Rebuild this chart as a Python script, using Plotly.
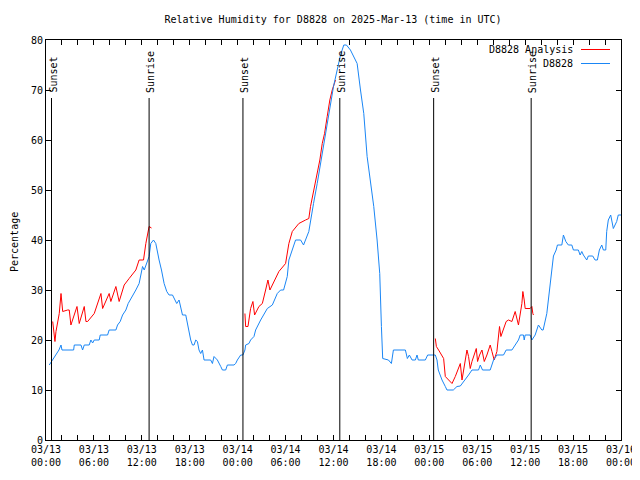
import plotly.graph_objects as go
import pandas as pd

# ---- data (hours since 2025-03-13 00:00 UTC) ----
obs_hours = [0.41, 0.62, 0.88, 1.25, 1.62, 1.88, 2.0, 3.46, 3.54, 4.38, 4.58, 4.79, 5.41, 5.62, 5.84,
             6.04, 6.66, 6.79, 7.71, 7.91, 8.75, 8.96, 9.29, 9.59, 10.0, 10.29, 10.84, 11.25, 11.66,
             11.87, 12.09, 12.3, 12.5, 12.91, 13.12, 13.46, 13.75, 13.96, 14.16, 14.46, 14.79, 15.12,
             15.41, 15.84, 16.04, 16.37, 16.66, 16.88, 17.09, 17.5, 17.71, 17.91, 18.12, 18.34, 18.54,
             18.75, 18.96, 19.16, 19.37, 19.59, 19.79, 20.62, 20.84, 21.04, 21.25, 21.46, 21.88, 22.09,
             22.5, 22.71, 23.54, 23.75, 23.96, 24.38, 24.66, 24.91, 25.0, 25.41, 25.62, 26.04, 26.25,
             26.88, 27.71, 28.34, 28.96, 29.38, 29.75, 30.21, 30.41, 30.84, 31.25, 31.88, 32.25, 32.91,
             33.12, 33.5, 33.96, 34.38, 34.79, 35.21, 35.62, 36.0, 36.46, 36.88, 37.29, 37.62, 38.12,
             38.5, 38.96, 39.38, 39.79, 40.21, 40.62, 41.04, 41.46, 41.79, 42.0, 42.16, 42.88, 43.25,
             43.5, 45.0, 45.25, 45.5, 45.84, 46.25, 46.46, 46.62, 47.5, 47.79, 48.75, 48.96, 49.12,
             49.59, 50.0, 50.21, 51.0, 51.46, 51.88, 52.5, 52.91, 53.34, 54.16, 54.38, 54.66, 55.62,
             56.04, 56.46, 57.29, 57.62, 58.34, 58.75, 59.16, 59.38, 59.79, 59.88, 60.0, 60.62, 60.84,
             61.25, 61.66, 62.09, 62.25, 62.71, 63.04, 63.34, 63.54, 63.88, 64.04, 64.59, 64.79, 65.09,
             65.41, 65.84, 66.04, 66.66, 66.88, 67.09, 67.29, 67.71, 67.91, 68.46, 68.75, 69.04, 69.29,
             69.59, 69.79, 70.09, 70.21, 70.41, 70.71, 71.04, 71.46, 71.66, 72.0]
obs_values = [15, 15.5, 16, 17, 18, 19, 18, 18, 19, 19, 18, 19, 19, 20, 19.4,
              20, 20, 21, 21, 22, 22, 23, 23.7, 25, 26, 27.3, 28.7, 30, 31.3,
              32.8, 34.7, 34, 35, 36.7, 39.3, 40, 39.3, 37.3, 36, 34, 31.3, 29.7,
              29, 29, 28.3, 27.3, 28, 26.7, 25, 25, 23.3, 21.3, 20, 19, 19,
              20, 19.7, 18, 17.3, 18, 16, 16, 15.3, 16.7, 16.3, 16, 14.7, 14,
              14, 15, 15, 15.3, 16, 17, 17, 18, 19, 19.3, 20, 20.7, 22,
              24, 26.3, 27, 29.3, 30, 30, 32.7, 36, 38, 40, 40, 39, 41.7,
              44, 47.3, 51.3, 55.3, 59.3, 62.7, 67.3, 70.7, 74, 77, 79, 79, 78,
              76.7, 75.3, 70, 65.3, 56.7, 52, 46.7, 40, 33.3, 22.7, 16.3, 16, 15.3,
              18, 18, 16.3, 17, 16, 16, 17, 16, 16, 17, 17, 16, 14,
              12, 10.7, 10, 10, 10.7, 10.8, 12, 13, 14, 14, 15, 14, 14,
              16, 17, 17, 18, 18, 19, 20, 21, 21, 20, 21, 21, 20,
              21, 23, 22, 22, 25.3, 30, 34, 36.8, 38, 39, 39, 41, 39.7,
              39, 39, 38, 38, 37, 37.7, 37, 36, 36.8, 36.8, 36, 36, 38,
              39, 38, 38, 41.7, 44, 45, 42.3, 43.7, 45, 45]

ana1_hours = [0.84, 0.96, 1.12, 1.25, 1.46, 1.66, 1.88, 2.09, 2.71, 2.91, 3.12, 3.54, 3.88, 4.16,
              4.79, 5.0, 5.21, 6.04, 6.88, 7.09, 7.91, 8.12, 8.75, 9.16, 9.79, 10.41, 10.84, 11.25,
              11.66, 12.21, 12.5, 12.71, 12.91, 13.21]
ana1_values = [23.7, 21.7, 19.7, 21.7, 23.3, 25.3, 29.3, 25.7, 26, 26, 23, 25, 26.7, 23.3,
               26.7, 23.7, 23.7, 25.3, 29.3, 26.3, 29.3, 27.7, 30.7, 27.7, 31, 32.3, 33.3, 34,
               36, 36, 39.3, 41.3, 42.7, 42.4]
ana2_hours = [24.91, 25.0, 25.29, 25.62, 25.91, 26.12, 26.66, 27.09, 27.5, 27.79, 28.04, 28.54,
              29.16, 30.0, 30.41, 30.84, 31.66, 32.5, 32.91, 33.12, 33.54, 33.96, 34.29, 34.59,
              34.88, 35.21, 35.54, 35.84, 36.25]
ana2_values = [25.3, 22.7, 22.7, 26.3, 27.7, 25, 26.7, 27.3, 30, 32, 30, 31.7,
               33.7, 35.3, 39.3, 41.7, 43.3, 44, 44.3, 46.7, 50, 52.7, 56, 59.3,
               61.3, 64.7, 68, 70, 72]
ana3_hours = [48.75, 48.88, 49.16, 49.59, 49.79, 50.0, 50.41, 50.84, 51.25, 51.66, 51.88, 52.09,
              52.29, 52.5, 52.71, 52.91, 53.12, 53.34, 53.75, 53.88, 54.04, 54.29, 54.59, 54.88,
              55.21, 55.62, 55.84, 56.12, 56.46, 56.79, 56.96, 57.29, 57.62, 57.91, 58.34, 58.75,
              58.96, 59.16, 59.59, 59.71, 59.88, 60.0, 60.62, 60.84, 60.96, 61.04]
ana3_values = [20.3, 18.7, 18, 17, 16.3, 12.7, 12, 11.3, 12.7, 14.7, 15.3, 12,
               14, 16, 18, 16.7, 14.3, 15.7, 18, 18.3, 15.7, 17, 18, 15.7,
               17, 19, 17.7, 16, 17.7, 22.7, 20.7, 22, 23.7, 24, 23.7, 25.7,
               24, 23, 27.3, 29.7, 28, 26.3, 26.3, 26.7, 25.3, 25]

event_hours = [0.69, 12.91, 24.66, 36.79, 48.54, 60.75]
event_labels = ["Sunset", "Sunrise", "Sunset", "Sunrise", "Sunset", "Sunrise"]

tick_hours = [0, 6, 12, 18, 24, 30, 36, 42, 48, 54, 60, 66, 72]
tick_labels = ["03/13<br>00:00", "03/13<br>06:00", "03/13<br>12:00", "03/13<br>18:00",
               "03/14<br>00:00", "03/14<br>06:00", "03/14<br>12:00", "03/14<br>18:00",
               "03/15<br>00:00", "03/15<br>06:00", "03/15<br>12:00", "03/15<br>18:00",
               "03/16<br>00:00"]

title_text = "Relative Humidity for D8828 on 2025-Mar-13 (time in UTC)"
series_names = ["D8828 Analysis", "D8828"]

# ---- build ----
base = pd.Timestamp("2025-03-13 00:00")
def t(hs):
    return [base + pd.Timedelta(hours=h) for h in hs]

RED = "#ff0000"
BLUE = "#1a86f5"
FONT = "DejaVu Sans Mono"

ana_x = t(ana1_hours) + [None] + t(ana2_hours) + [None] + t(ana3_hours)
ana_y = ana1_values + [None] + ana2_values + [None] + ana3_values

fig = go.Figure()
fig.add_trace(go.Scatter(x=ana_x, y=ana_y, mode="lines", name=series_names[0],
                         line=dict(color=RED, width=1), connectgaps=False))
fig.add_trace(go.Scatter(x=t(obs_hours), y=obs_values, mode="lines", name=series_names[1],
                         line=dict(color=BLUE, width=1)))

for h, lab in zip(event_hours, event_labels):
    x = base + pd.Timedelta(hours=h)
    fig.add_shape(type="line", xref="x", yref="y", x0=x, x1=x, y0=0, y1=68.4,
                  line=dict(color="black", width=1))
    fig.add_annotation(x=x, y=69.0, xref="x", yref="y", text=lab, textangle=-90,
                       showarrow=False, xanchor="center", yanchor="bottom", xshift=1,
                       font=dict(family=FONT, size=10, color="black"))

# page body has an 8px offset; figure placed so plot area lands at x 46..621, y 40..440
OFF = 8
W, H = 575, 400
L, T = 46 - OFF, 40 - OFF
FW, FH = 640 - OFF, 480 - OFF

for i, (name, col) in enumerate(zip(series_names, [RED, BLUE])):
    ypix = 49.5 + 14 * i
    yp = (40 + H - ypix) / H
    fig.add_annotation(x=(575 - 46) / W, y=yp, xref="paper", yref="paper", text=name,
                       showarrow=False, xanchor="right", yanchor="middle",
                       font=dict(family=FONT, size=10, color="black"))
    fig.add_shape(type="line", xref="paper", yref="paper", x0=(581 - 46) / W, x1=(610 - 46) / W,
                  y0=yp, y1=yp, line=dict(color=col, width=1))

fig.add_annotation(x=(14 - 46) / W, y=0.495, xref="paper", yref="paper", text="Percentage",
                   textangle=-90, showarrow=False, xanchor="center", yanchor="middle",
                   font=dict(family=FONT, size=10, color="black"))

fig.update_layout(
    width=FW, height=FH,
    margin=dict(l=L, r=FW - L - W, t=T, b=FH - T - H, autoexpand=False),
    paper_bgcolor="white", plot_bgcolor="white",
    showlegend=False,
    font=dict(family=FONT, size=10, color="black"),
    title=dict(text=title_text, x=(333 - 46) / W, xref="paper", xanchor="center",
               y=1 - (19 - OFF) / FH, yanchor="middle", font=dict(family=FONT, size=10, color="black")),
    xaxis=dict(range=[base, base + pd.Timedelta(hours=72)], tickmode="array",
               tickvals=t(tick_hours), ticktext=tick_labels, ticks="inside", ticklen=5,
               tickcolor="black", showline=True, linecolor="black", linewidth=1,
               mirror="allticks", showgrid=False, zeroline=False, automargin=False,
               minor=dict(tickmode="linear", tick0=base, dtick=2 * 3600 * 1000,
                          ticks="inside", ticklen=5, tickcolor="black", showgrid=False)),
    yaxis=dict(range=[0, 80], tickmode="linear", tick0=0, dtick=10, ticks="inside", ticklen=5,
               tickcolor="black", showline=True, linecolor="black", linewidth=1,
               mirror="allticks", showgrid=False, zeroline=False, automargin=False),
)

fig.write_html("out.html")
